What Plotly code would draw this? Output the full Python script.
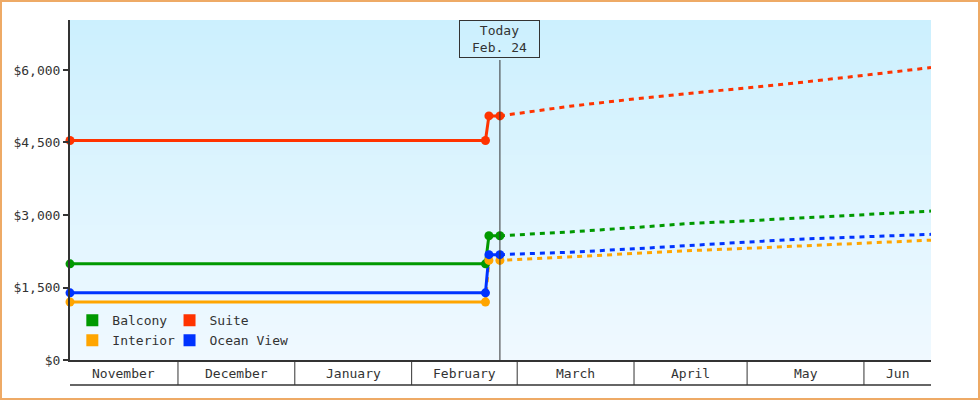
import plotly.graph_objects as go
from datetime import datetime

# ---------------- data ----------------
series_names = ["Balcony", "Suite", "Interior", "Ocean View"]
series_colors = ["#009900", "#ff3300", "#ffa500", "#0033ff"]

history_dates = ["2024-11-02 08:30", "2025-02-20 14:00", "2025-02-21 12:00", "2025-02-24 10:00"]
balcony_history = [1990, 1990, 2570, 2570]
suite_history = [4540, 4540, 5050, 5050]
interior_history = [1200, 1200, 2060, 2060]
ocean_history = [1390, 1390, 2180, 2180]

forecast_dates = ["2025-02-24 10:00", "2025-03-15", "2025-04-01", "2025-04-15",
                  "2025-05-01", "2025-05-15", "2025-06-01", "2025-06-18 19:00"]
balcony_forecast = [2570, 2650, 2740, 2820, 2880, 2940, 3010, 3080]
suite_forecast = [5050, 5250, 5400, 5510, 5630, 5740, 5890, 6050]
interior_forecast = [2060, 2140, 2210, 2260, 2310, 2360, 2420, 2480]
ocean_forecast = [2180, 2230, 2300, 2370, 2440, 2500, 2550, 2600]

y_tick_values = [0, 1500, 3000, 4500, 6000]
y_tick_labels = ["$0", "$1,500", "$3,000", "$4,500", "$6,000"]

month_labels = ["November", "December", "January", "February", "March", "April", "May", "Jun"]
month_starts = ["2024-11-01", "2024-12-01", "2025-01-01", "2025-02-01", "2025-03-01",
                "2025-04-01", "2025-05-01", "2025-06-01", "2025-07-01"]

x_range = ["2024-11-02 08:30", "2025-06-18 19:00"]
y_range = [0, 7034]
today = "2025-02-24 10:00"
today_label = "Today<br>Feb. 24"

# ---------------- style ----------------
FONT = "DejaVu Sans Mono"
INK = "#333333"

history = [balcony_history, suite_history, interior_history, ocean_history]
forecast = [balcony_forecast, suite_forecast, interior_forecast, ocean_forecast]
# index of last point drawn solid in the history (Interior's jump is dashed)
solid_end = [4, 4, 2, 4]

fig = go.Figure()

for i, name in enumerate(series_names):
    c = series_colors[i]
    se = solid_end[i]
    fig.add_trace(go.Scatter(x=history_dates[:se], y=history[i][:se], mode="lines",
                             line=dict(color=c, width=3), showlegend=False,
                             hoverinfo="skip"))
    dx = history_dates[se - 1:] + forecast_dates[1:]
    dy = history[i][se - 1:] + forecast[i][1:]
    fig.add_trace(go.Scatter(x=dx, y=dy, mode="lines",
                             line=dict(color=c, width=3, dash="5px,5px"),
                             showlegend=False, hoverinfo="skip"))

for i, name in enumerate(series_names):
    fig.add_trace(go.Scatter(x=history_dates, y=history[i], mode="markers",
                             marker=dict(color=series_colors[i], size=9, symbol="circle"),
                             cliponaxis=False, showlegend=False, name=name))

# legend entries (square swatches), two columns
for i, name in enumerate(series_names):
    fig.add_trace(go.Scatter(x=[None], y=[None], mode="markers", name=name,
                             marker=dict(color=series_colors[i], size=12, symbol="square"),
                             showlegend=True,
                             legend="legend" if i in (0, 2) else "legend2"))

# ---------------- background gradient ----------------
shapes = []
n_bands = 68
top = (204, 240, 254)
bot = (240, 249, 255)
for k in range(n_bands):
    t = k / (n_bands - 1)
    r = round(top[0] + (bot[0] - top[0]) * t)
    g = round(top[1] + (bot[1] - top[1]) * t)
    b = round(top[2] + (bot[2] - top[2]) * t)
    y1 = 1 - k / n_bands
    y0 = 1 - (k + 1) / n_bands
    shapes.append(dict(type="rect", xref="paper", yref="paper", x0=0, x1=1, y0=y0, y1=y1,
                       fillcolor=f"rgb({r},{g},{b})", line=dict(width=0), layer="below"))

# today line
today_top = (360 - 60) / 340
shapes.append(dict(type="line", xref="x", yref="paper", x0=today, x1=today, y0=0, y1=today_top,
                   line=dict(color=INK, width=1)))

# month cell separators + bottom rule
cell_bottom = -25 / 340
xr0 = datetime.fromisoformat(x_range[0])
xr1 = datetime.fromisoformat(x_range[1])
for ms in month_starts:
    d = datetime.fromisoformat(ms)
    if xr0 < d < xr1:
        shapes.append(dict(type="line", xref="x", yref="paper", x0=ms, x1=ms, y0=0, y1=cell_bottom,
                           line=dict(color=INK, width=1)))
shapes.append(dict(type="line", xref="paper", yref="paper", x0=0, x1=1, y0=cell_bottom, y1=cell_bottom,
                   line=dict(color=INK, width=1.3)))

# outer border
W, H = 980, 400
L, R, T, B = 70, 49, 20, 40
pw, ph = W - L - R, H - T - B
shapes.append(dict(type="rect", xref="paper", yref="paper",
                   x0=(1 - L) / pw, x1=(W - 1 - L) / pw,
                   y0=-(H - 1 - T - ph) / ph, y1=(ph + T - 1) / ph,
                   line=dict(color="#eeaa66", width=2), fillcolor="rgba(0,0,0,0)", layer="above"))

annotations = []
# month labels centered on visible part of each month
for j, lab in enumerate(month_labels):
    a = max(datetime.fromisoformat(month_starts[j]), xr0)
    b = min(datetime.fromisoformat(month_starts[j + 1]), xr1)
    mid = a + (b - a) / 2
    annotations.append(dict(x=mid.isoformat(sep=" "), y=-13 / 340, xref="x", yref="paper",
                            text=lab, showarrow=False, xanchor="center", yanchor="middle",
                            font=dict(family=FONT, size=13, color=INK)))

annotations.append(dict(x=today, y=1, xref="x", yref="paper", text=today_label,
                        showarrow=False, xanchor="center", yanchor="top",
                        font=dict(family=FONT, size=13, color=INK),
                        bordercolor=INK, borderwidth=1, borderpad=2, width=75,
                        bgcolor="rgba(0,0,0,0)"))

fig.update_layout(
    width=W, height=H,
    margin=dict(l=L, r=R, t=T, b=B),
    paper_bgcolor="white",
    plot_bgcolor="#e6f6fe",
    font=dict(family=FONT, size=13, color=INK),
    shapes=shapes,
    annotations=annotations,
    xaxis=dict(type="date", range=x_range, showgrid=False, zeroline=False,
               showline=True, linecolor=INK, linewidth=2, showticklabels=False, ticks=""),
    yaxis=dict(range=y_range, showgrid=False, zeroline=False,
               showline=True, linecolor=INK, linewidth=2,
               tickvals=y_tick_values, ticktext=y_tick_labels,
               ticks="outside", ticklen=5, tickwidth=2, tickcolor=INK),
    legend=dict(x=0.0027, y=0.0138, xanchor="left", yanchor="bottom", orientation="v",
                bgcolor="rgba(0,0,0,0)", font=dict(family=FONT, size=13, color=INK),
                itemwidth=30, tracegroupgap=0),
    legend2=dict(x=0.1156, y=0.0138, xanchor="left", yanchor="bottom", orientation="v",
                 bgcolor="rgba(0,0,0,0)", font=dict(family=FONT, size=13, color=INK),
                 itemwidth=30, tracegroupgap=0),
    showlegend=True,
)

fig.write_html("out.html",
               config={"displayModeBar": False},
               post_script="document.body.style.margin='0';document.body.style.overflow='hidden';")
